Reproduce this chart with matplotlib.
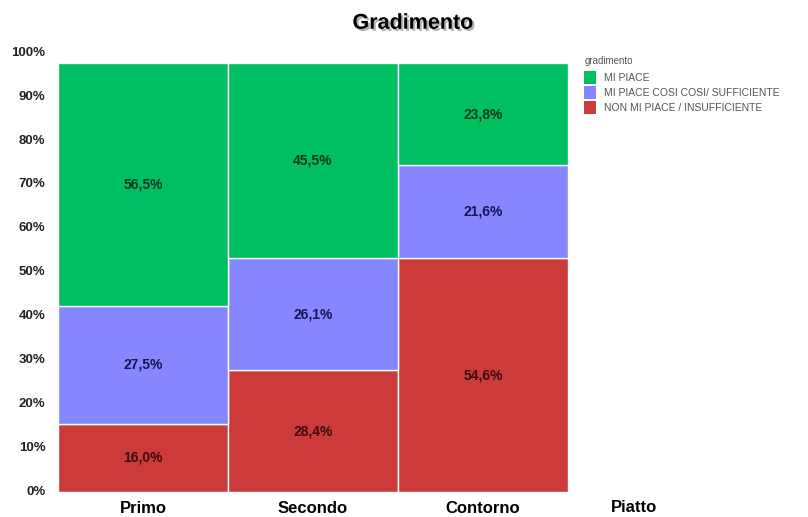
import numpy as np
import matplotlib
matplotlib.use("Agg")
import matplotlib.pyplot as plt
import matplotlib.patheffects as pe
from matplotlib.patches import Patch

# data (percent per piatto)
piatti = ["Primo", "Secondo", "Contorno"]
categorie = ["MI PIACE", "MI PIACE COSI COSI/ SUFFICIENTE", "NON MI PIACE / INSUFFICIENTE"]
non_mi_piace = [16.0, 28.4, 54.6]
cosi_cosi = [27.5, 26.1, 21.6]
mi_piace = [56.5, 45.5, 23.8]
tick_labels = ["0%", "10%", "20%", "30%", "40%", "50%", "60%", "70%", "80%", "90%", "100%"]

col_green = "#00BE62"
col_purple = "#8686FF"
col_red = "#CC3A3A"
txt_green = "#0B3A1E"
txt_purple = "#161650"
txt_red = "#3A0E0E"

plt.rcParams['font.family'] = ['Liberation Sans', 'DejaVu Sans']

fig = plt.figure(figsize=(8.08, 5.17), dpi=100)
ax = fig.add_axes([0.0718, 0.0478, 0.631, 0.8547])

x = np.arange(len(piatti))
red = np.array(non_mi_piace) / 100
pur = np.array(cosi_cosi) / 100
grn = np.array(mi_piace) / 100

ax.bar(x, red, width=1.0, color=col_red, edgecolor="white", linewidth=1)
ax.bar(x, pur, width=1.0, bottom=red, color=col_purple, edgecolor="white", linewidth=1)
ax.bar(x, grn, width=1.0, bottom=red + pur, color=col_green, edgecolor="white", linewidth=1)

for i in range(len(piatti)):
    ax.text(x[i], red[i] / 2, "{:.1f}%".format(non_mi_piace[i]).replace(".", ","),
            ha="center", va="center", fontsize=10, fontweight="bold", color=txt_red)
    ax.text(x[i], red[i] + pur[i] / 2, "{:.1f}%".format(cosi_cosi[i]).replace(".", ","),
            ha="center", va="center", fontsize=10, fontweight="bold", color=txt_purple)
    ax.text(x[i], red[i] + pur[i] + grn[i] / 2, "{:.1f}%".format(mi_piace[i]).replace(".", ","),
            ha="center", va="center", fontsize=10, fontweight="bold", color=txt_green)

ax.set_xlim(-0.5, 2.5)
ax.set_ylim(0, 1.03)
# the y labels in the original are spaced a little wider than the bars
ax.set_yticks([0.005 + 0.1023 * k for k in range(len(tick_labels))])
ax.set_yticklabels(tick_labels, fontsize=9.5, color="#222222", fontweight="bold")
ax.set_xticks(x)
ax.set_xticklabels(piatti, fontsize=12, fontweight="bold")
ax.tick_params(length=0)
ax.tick_params(axis="x", pad=6)
ax.tick_params(axis="y", pad=9)
for s in ax.spines.values():
    s.set_visible(False)

ax.set_xlabel("Piatto", fontsize=12, fontweight="bold")
ax.xaxis.set_label_coords(1.13, -0.017)
ax.xaxis.label.set_verticalalignment("top")

fig.text(0.511, 0.955, "Gradimento", ha="center", va="center", fontsize=15.5,
         fontweight="bold", color="black",
         path_effects=[pe.withSimplePatchShadow(offset=(1.5, -1.5), shadow_rgbFace="gray", alpha=0.6)])

handles = [Patch(facecolor=col_green), Patch(facecolor=col_purple), Patch(facecolor=col_red)]
leg = fig.legend(handles, categorie, title="gradimento", loc="upper left",
                 bbox_to_anchor=(0.714, 0.905), frameon=False, fontsize=7.5,
                 title_fontsize=7, handlelength=1.1, handleheight=1.45,
                 labelspacing=0.25, handletextpad=0.8, borderpad=0.2)
leg._legend_box.align = "left"
leg._legend_box.sep = 3.5
for t in leg.get_texts():
    t.set_color("#555555")
leg.get_title().set_color("#555555")

plt.savefig("out.png", dpi=100)
